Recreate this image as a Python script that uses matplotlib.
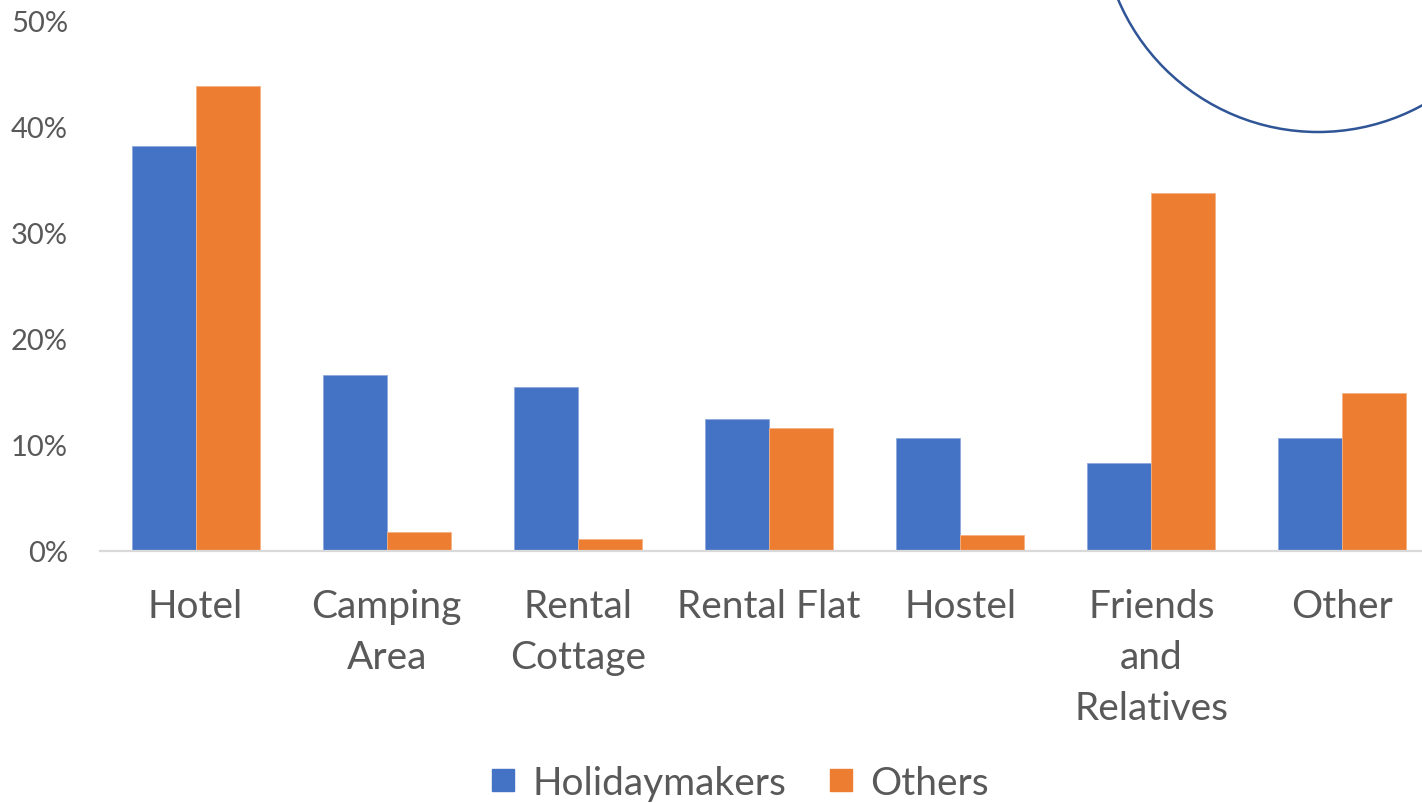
import matplotlib.pyplot as plt
import numpy as np
from matplotlib.lines import Line2D
from matplotlib.patches import Circle
from matplotlib.ticker import FuncFormatter

categories = [
    "Hotel",
    "Camping\nArea",
    "Rental\nCottage",
    "Rental Flat",
    "Hostel",
    "Friends\nand\nRelatives",
    "Other",
]
holidaymakers = [38.2, 16.6, 15.4, 12.4, 10.6, 8.3, 10.6]
others = [43.8, 1.8, 1.1, 11.6, 1.5, 33.7, 14.9]
series_names = ["Holidaymakers", "Others"]
y_ticks = [0, 10, 20, 30, 40, 50]

BLUE = "#4472C4"
ORANGE = "#ED7D31"
TEXT = "#595959"

plt.rcParams["font.family"] = ["Lato", "DejaVu Sans"]

fig = plt.figure(figsize=(14.22, 8.04), dpi=100)
# plot area runs past the right edge of the picture, as in the reference
ax = fig.add_axes([100 / 1422, 252.3 / 804, 1338 / 1422, 530 / 804])

x = np.arange(len(categories))
w = 0.335
ax.bar(x - w / 2, holidaymakers, w, color=BLUE, edgecolor="#8FAADC", linewidth=0.6)
ax.bar(x + w / 2, others, w, color=ORANGE, edgecolor="#F4B183", linewidth=0.6)

ax.set_xlim(-0.5, len(categories) - 0.5)
ax.set_ylim(0, 50)
ax.set_yticks(y_ticks)
ax.yaxis.set_major_formatter(FuncFormatter(lambda v, _: f"{v:.0f}%"))
ax.set_xticks(x)
ax.set_xticklabels(categories, linespacing=1.52)

for s in ["top", "right", "left"]:
    ax.spines[s].set_visible(False)
ax.spines["bottom"].set_color("#D9D9D9")
ax.spines["bottom"].set_linewidth(1.6)
ax.tick_params(axis="x", length=0, pad=27, labelsize=28, labelcolor=TEXT)
ax.tick_params(axis="y", length=0, pad=23, labelsize=21, labelcolor=TEXT)

handles = [
    Line2D([], [], marker="s", linestyle="none", markersize=16, color=BLUE),
    Line2D([], [], marker="s", linestyle="none", markersize=16, color=ORANGE),
]
fig.legend(
    handles,
    series_names,
    loc="center",
    bbox_to_anchor=(738 / 1422, 1 - 784 / 804),
    ncol=2,
    frameon=False,
    fontsize=28,
    labelcolor=TEXT,
    handletextpad=0.35,
    columnspacing=1.0,
    handlelength=0.8,
)

# circle outline in the top right corner
fig.add_artist(
    Circle(
        (13.18, 8.88),
        2.17,
        transform=fig.dpi_scale_trans,
        fill=False,
        edgecolor="#2F5597",
        linewidth=1.8,
    )
)

fig.savefig("out.png", dpi=100, facecolor="white")
